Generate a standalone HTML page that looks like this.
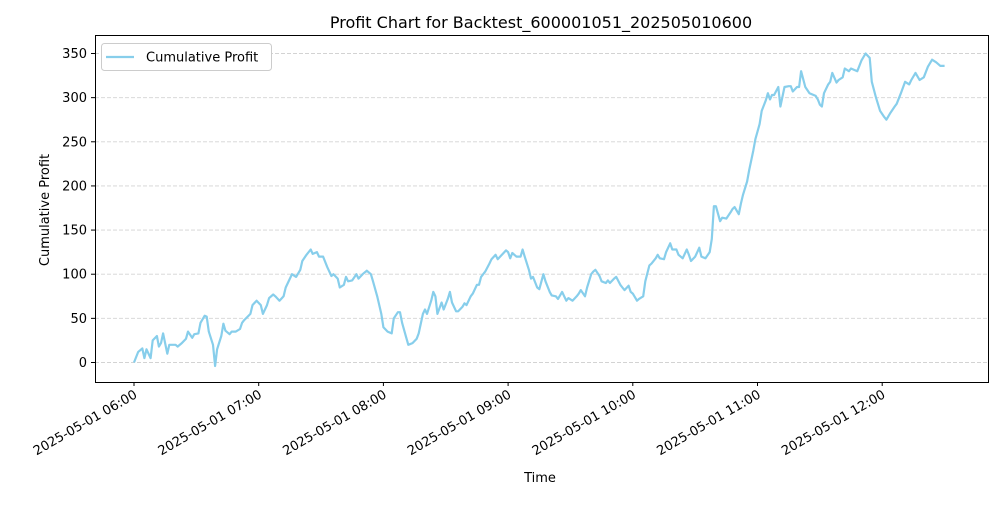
<!DOCTYPE html>
<html><head><meta charset="utf-8"><style>
body{margin:0;background:#fff;font-family:"Liberation Sans","DejaVu Sans",sans-serif;}
</style></head><body>
<svg id="chart" width="1000" height="500" xmlns="http://www.w3.org/2000/svg" font-family="'DejaVu Sans','Liberation Sans',sans-serif">
<rect width="1000" height="500" fill="#fff"/>
<text x="541" y="28" text-anchor="middle" font-size="16">Profit Chart for Backtest_600001051_202505010600</text>
<g id="grid"></g>
<g id="ticks"></g>
<polyline id="line" fill="none" stroke="#87CEEB" stroke-width="2.2" stroke-linejoin="round"/>
<rect x="95.5" y="35.5" width="893" height="347" fill="none" stroke="#000" stroke-width="1"/>
<text x="540" y="482" text-anchor="middle" font-size="13">Time</text>
<text transform="translate(49,210) rotate(-90)" text-anchor="middle" font-size="13">Cumulative Profit</text>
<g>
<rect x="101.5" y="43.5" width="170" height="27" rx="3" fill="#fff" stroke="#ccc"/>
<line x1="106" y1="57" x2="134" y2="57" stroke="#87CEEB" stroke-width="2.2"/>
<text x="146" y="61.5" font-size="13">Cumulative Profit</text>
</g>
</svg>
<script>
const minutes=[0,2,4,5,6,8,9,11,12,13,14,16,17,20,21,23,25,26,28,29,31,32,34,35,36,38,39,40,42,43,44,46,47,49,51,52,53,56,57,59,61,62,64,65,67,68,70,72,73,75,76,78,80,81,83,85,86,88,89,91,93,95,96,98,99,101,102,103,105,107,108,110,112,114,115,117,119,120,122,124,125,127,128,129,131,132,134,136,137,139,140,141,143,144,145,146,148,149,151,152,153,155,156,158,159,160,162,163,165,166,167,169,171,172,174,175,177,179,180,181,182,184,186,187,188,190,191,192,194,195,197,198,200,201,203,204,206,208,209,211,213,214,215,217,218,220,221,222,224,225,227,228,229,231,232,234,235,236,238,239,240,242,243,245,246,248,249,251,252,253,255,256,258,259,261,262,264,266,267,268,270,272,273,275,277,278,279,280,282,283,285,287,288,289,291,292,293,295,296,298,299,301,302,304,305,306,307,308,310,311,313,315,316,317,319,320,321,323,325,328,329,330,331,332,334,335,336,338,339,341,342,344,345,348,350,352,354,355,357,359,361,362,364,366,367,369,371,373,374,376,378,380,382,384,386,388,390];
const profit=[0,12,16,5,15,5,25,30,18,22,33,10,20,20,18,22,27,35,28,32,33,45,53,52,35,20,-4,15,30,44,36,32,35,35,38,45,48,55,65,70,65,55,65,73,77,75,70,75,85,95,100,97,105,115,122,128,123,125,120,120,108,98,100,95,85,88,97,92,93,100,95,100,104,100,92,75,55,40,35,33,50,57,57,45,28,20,22,27,33,55,60,55,70,80,75,55,68,60,72,80,68,58,58,63,67,65,75,78,88,88,97,103,112,117,122,117,122,127,125,118,124,120,120,128,120,105,95,97,85,83,100,92,80,76,75,72,80,70,73,70,75,78,82,75,85,100,103,105,98,92,90,93,90,95,97,88,85,82,87,80,78,70,72,75,92,110,112,118,122,118,117,125,135,128,128,122,118,128,122,115,120,130,120,118,125,140,177,177,160,164,163,170,174,176,168,180,190,205,218,240,253,270,285,297,305,298,303,303,312,290,312,313,313,307,312,312,330,312,305,302,298,292,290,305,315,318,328,317,320,323,333,330,333,330,342,350,345,318,300,285,278,275,283,290,293,305,318,315,320,328,320,323,335,343,340,336,336];
const yTicks=[0,50,100,150,200,250,300,350];
const xTickHours=[6,7,8,9,10,11,12];
const xTickLabels=["2025-05-01 06:00","2025-05-01 07:00","2025-05-01 08:00","2025-05-01 09:00","2025-05-01 10:00","2025-05-01 11:00","2025-05-01 12:00"];
const NS="http://www.w3.org/2000/svg";
const xs=m=>134+m*(124.7/60);
const ys=v=>362.5-v*(309/350);
const grid=document.getElementById('grid'),ticks=document.getElementById('ticks');
yTicks.forEach(t=>{
 const y=ys(t);
 const g=document.createElementNS(NS,'line');
 
 
 g.setAttribute('x1',95);g.setAttribute('x2',988);g.setAttribute('y1',y);g.setAttribute('y2',y);
 g.setAttribute('stroke','#d3d3d3');g.setAttribute('stroke-dasharray','4,2');g.setAttribute('stroke-width','0.9');
 grid.appendChild(g);
 const tk=document.createElementNS(NS,'line');
 
 
 tk.setAttribute('x1',91);tk.setAttribute('x2',95);tk.setAttribute('y1',y);tk.setAttribute('y2',y);tk.setAttribute('stroke','#000');
 ticks.appendChild(tk);
 const tx=document.createElementNS(NS,'text');
 
 
 tx.setAttribute('x',87);tx.setAttribute('y',y+4.5);tx.setAttribute('text-anchor','end');tx.setAttribute('font-size','13');
 tx.textContent=t;ticks.appendChild(tx);
});
xTickHours.forEach((h,i)=>{
 const x=xs((h-6)*60);
 const tk=document.createElementNS(NS,'line');
 
 
 tk.setAttribute('x1',x);tk.setAttribute('x2',x);tk.setAttribute('y1',382);tk.setAttribute('y2',386);tk.setAttribute('stroke','#000');
 ticks.appendChild(tk);
 const tx=document.createElementNS(NS,'text');
 
 
 tx.setAttribute('text-anchor','end');tx.setAttribute('font-size','13');
 tx.setAttribute('transform','translate('+(x+4)+',397) rotate(-30)');
 tx.textContent=xTickLabels[i];ticks.appendChild(tx);
});
document.getElementById('line').setAttribute('points',minutes.map((m,i)=>xs(m).toFixed(1)+','+ys(profit[i]).toFixed(1)).join(' '));
</script>
</body></html>
